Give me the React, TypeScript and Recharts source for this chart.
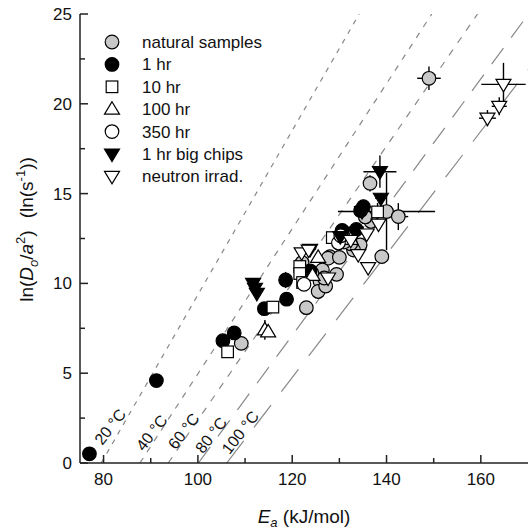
import {
  ScatterChart,
  Scatter,
  XAxis,
  YAxis,
  ErrorBar,
  ReferenceLine,
  Legend,
  Label,
} from 'recharts';

// ---- data (Ea in kJ/mol, ln(Do/a2) in ln(s-1)) ----
const naturalSamples = [
  { x: 149.0, y: 21.42, ex: 2.5, ey: 0.65 },
  { x: 136.5, y: 15.57, ex: 0.8, ey: 0.45 },
  { x: 140.0, y: 14.0, ex: 10.3, ey: 2.15 },
  { x: 142.5, y: 13.72, ex: 2.1, ey: 0.75 },
  { x: 136.7, y: 13.45, ex: 1.0, ey: 0.3 },
  { x: 139.0, y: 11.49 },
  { x: 134.4, y: 12.14, ex: 1.5, ey: 0.3 },
  { x: 133.0, y: 11.86 },
  { x: 132.4, y: 12.2 },
  { x: 130.3, y: 12.55 },
  { x: 128.0, y: 11.49, ex: 1.2 },
  { x: 127.6, y: 11.4 },
  { x: 126.4, y: 10.75 },
  { x: 129.4, y: 10.5, ex: 1.3, ey: 0.3 },
  { x: 125.9, y: 10.1 },
  { x: 125.5, y: 9.55, ey: 0.4 },
  { x: 127.1, y: 9.85 },
  { x: 123.0, y: 8.65 },
  { x: 109.2, y: 6.66 },
  { x: 122.1, y: 11.16 },
  { x: 124.2, y: 10.56 },
  { x: 131.0, y: 12.3 },
  { x: 130.0, y: 11.45 },
  { x: 126.8, y: 10.3 },
  { x: 135.5, y: 13.7 },
];

const oneHr = [
  { x: 77.0, y: 0.51 },
  { x: 91.2, y: 4.59 },
  { x: 105.3, y: 6.81 },
  { x: 107.7, y: 7.24 },
  { x: 114.1, y: 8.59 },
  { x: 118.8, y: 9.12 },
  { x: 118.6, y: 10.19, ex: 1.3, ey: 0.45 },
  { x: 123.8, y: 10.7 },
  { x: 130.6, y: 12.95 },
  { x: 130.1, y: 12.65 },
  { x: 133.6, y: 13.0 },
  { x: 135.1, y: 14.27, ex: 1.6, ey: 0.4 },
  { x: 134.5, y: 14.05 },
];

const tenHr = [
  { x: 106.3, y: 6.19 },
  { x: 115.9, y: 8.68 },
  { x: 121.6, y: 10.94 },
  { x: 121.6, y: 10.55 },
  { x: 122.2, y: 10.05 },
  { x: 138.1, y: 13.98, ex: 0.8, ey: 0.5 },
  { x: 128.5, y: 12.55 },
];

const hundredHr = [
  { x: 114.2, y: 7.41, ey: 0.55 },
  { x: 114.9, y: 7.3 },
  { x: 125.5, y: 11.45 },
  { x: 132.4, y: 12.45 },
  { x: 124.3, y: 10.45 },
];

const threeFiftyHr = [
  { x: 122.5, y: 9.95 },
  { x: 129.8, y: 12.25 },
  { x: 130.3, y: 12.65 },
];

const bigChips = [
  { x: 111.7, y: 10.0 },
  { x: 112.1, y: 9.73 },
  { x: 112.5, y: 9.45 },
  { x: 123.8, y: 11.9, ex: 1.2 },
  { x: 138.6, y: 16.22, ex: 3.5, ey: 0.9 },
  { x: 138.8, y: 14.74, ex: 1.2, ey: 0.3 },
  { x: 134.8, y: 14.0, ex: 1.8, ey: 0.3 },
  { x: 130.2, y: 12.6 },
  { x: 133.5, y: 12.85 },
];

const neutron = [
  { x: 164.8, y: 21.08, ex: 4.7, ey: 1.2 },
  { x: 163.9, y: 19.86, ex: 1.6, ey: 0.5 },
  { x: 161.4, y: 19.2, ex: 1.8, ey: 0.45 },
  { x: 138.3, y: 13.3 },
  { x: 135.8, y: 12.75, ex: 1.0 },
  { x: 134.0, y: 11.6 },
  { x: 136.1, y: 10.88 },
  { x: 132.4, y: 12.4 },
  { x: 127.6, y: 10.3 },
  { x: 122.0, y: 11.7 },
  { x: 123.5, y: 11.85 },
];

// isotherms: Ea at ln = 0, and end point
const isoNames = ['20 °C', '40 °C', '60 °C', '80 °C', '100 °C'];
const isoStartEa = [79.5, 87.7, 93.7, 100.1, 106.1];
const isoEndEa = [134.2, 149.6, 159.3, 170, 170];
const isoEndLn = [25, 25, 25, 24.96, 21.9];
const isoLabelEa = [81.4, 90.2, 97.0, 102.8, 109.0];
const isoLabelLn = [2.02, 1.68, 1.77, 1.55, 1.7];

const xTicks = [80, 90, 100, 110, 120, 130, 140, 150, 160];
const yTicks = [0, 2.5, 5, 7.5, 10, 12.5, 15, 17.5, 20, 22.5, 25];

const FONT = 'Liberation Sans, Arial, Helvetica, sans-serif';
const dashes = ['5 6', '6 7', '7 8', '20 13', '28 17'];

const withErr = (arr) => arr.map((d) => ({ ex: 0, ey: 0, ...d }));

const series = [
  { name: 'natural samples', kind: 'natural', data: withErr(naturalSamples) },
  { name: '1 hr', kind: 'hr1', data: withErr(oneHr) },
  { name: '10 hr', kind: 'hr10', data: withErr(tenHr) },
  { name: '100 hr', kind: 'hr100', data: withErr(hundredHr) },
  { name: '350 hr', kind: 'hr350', data: withErr(threeFiftyHr) },
  { name: '1 hr big chips', kind: 'chips', data: withErr(bigChips) },
  { name: 'neutron irrad.', kind: 'neutron', data: withErr(neutron) },
];

function Marker({ kind, cx, cy }: { kind: string; cx: number; cy: number }) {
  const sw = 1.2;
  switch (kind) {
    case 'natural':
      return <circle cx={cx} cy={cy} r={6.8} fill="#c8c8c8" stroke="#000" strokeWidth={sw} />;
    case 'hr1':
      return <circle cx={cx} cy={cy} r={6.8} fill="#000" stroke="#000" strokeWidth={sw} />;
    case 'hr350':
      return <circle cx={cx} cy={cy} r={6.8} fill="#fff" stroke="#000" strokeWidth={sw} />;
    case 'hr10':
      return <rect x={cx - 5.8} y={cy - 5.8} width={11.6} height={11.6} fill="#fff" stroke="#000" strokeWidth={sw} />;
    case 'hr100':
      return (
        <polygon
          points={`${cx},${cy - 7.5} ${cx + 7.5},${cy + 5} ${cx - 7.5},${cy + 5}`}
          fill="#fff"
          stroke="#000"
          strokeWidth={sw}
        />
      );
    case 'chips':
      return (
        <polygon
          points={`${cx - 7.5},${cy - 5} ${cx + 7.5},${cy - 5} ${cx},${cy + 7.5}`}
          fill="#000"
          stroke="#000"
          strokeWidth={sw}
        />
      );
    default:
      return (
        <polygon
          points={`${cx - 7.5},${cy - 5} ${cx + 7.5},${cy - 5} ${cx},${cy + 7.5}`}
          fill="#fff"
          stroke="#000"
          strokeWidth={sw}
        />
      );
  }
}

const frame = { stroke: '#222', strokeWidth: 1.5 };

function BottomTick({ x, y, payload }: any) {
  const major = payload.value % 20 === 0;
  return (
    <g>
      <line x1={x} x2={x} y1={y} y2={y - (major ? 8 : 5)} stroke="#222" strokeWidth={1.5} />
      {major && (
        <text x={x} y={y + 22} textAnchor="middle" fontSize={17} fontFamily={FONT} fill="#111">
          {payload.value}
        </text>
      )}
    </g>
  );
}

function TopTick({ x, y, payload }: any) {
  const major = payload.value % 20 === 0;
  return <line x1={x} x2={x} y1={y} y2={y + (major ? 8 : 5)} stroke="#222" strokeWidth={1.5} />;
}

function LeftTick({ x, y, payload }: any) {
  const major = payload.value % 5 === 0;
  return (
    <g>
      <line x1={x} x2={x + (major ? 8 : 5)} y1={y} y2={y} stroke="#222" strokeWidth={1.5} />
      {major && (
        <text x={x - 8} y={y + 6} textAnchor="end" fontSize={17} fontFamily={FONT} fill="#111">
          {payload.value}
        </text>
      )}
    </g>
  );
}

function RightTick({ x, y, payload }: any) {
  const major = payload.value % 5 === 0;
  return <line x1={x} x2={x - (major ? 8 : 5)} y1={y} y2={y} stroke="#222" strokeWidth={1.5} />;
}

function XTitle({ viewBox }: any) {
  const cx = viewBox.x + viewBox.width / 2;
  return (
    <text x={cx} y={viewBox.y + 60} textAnchor="middle" fontSize={19} fontFamily={FONT} fill="#111">
      <tspan fontStyle="italic">E</tspan>
      <tspan fontStyle="italic" fontSize={13} dy={4}>a</tspan>
      <tspan dy={-4}> (kJ/mol)</tspan>
    </text>
  );
}

function YTitle({ viewBox }: any) {
  const x = viewBox.x + 33;
  const y = viewBox.y + viewBox.height / 2 - 9;
  return (
    <text
      x={x}
      y={y}
      transform={`rotate(-90 ${x} ${y})`}
      textAnchor="middle"
      fontSize={19}
      fontFamily={FONT}
      fill="#111"
    >
      <tspan>ln(</tspan>
      <tspan fontStyle="italic">D</tspan>
      <tspan fontStyle="italic" fontSize={13} dy={5}>o</tspan>
      <tspan dy={-5}>/</tspan>
      <tspan fontStyle="italic">a</tspan>
      <tspan fontSize={13} dy={-8}>2</tspan>
      <tspan dy={8}>)</tspan>
      <tspan dx={12}>(ln(s</tspan>
      <tspan fontSize={13} dy={-8}>-1</tspan>
      <tspan dy={8}>))</tspan>
    </text>
  );
}

function LegendBox() {
  return (
    <svg width={230} height={160}>
      {series.map((s, i) => (
        <g key={s.name}>
          <Marker kind={s.kind} cx={12} cy={10 + i * 22.4} />
          <text x={42} y={10 + i * 22.4 + 6} fontSize={17} fontFamily={FONT} fill="#111">
            {s.name}
          </text>
        </g>
      ))}
    </svg>
  );
}

const isoLabelData = isoNames.map((n, i) => ({ x: isoLabelEa[i], y: isoLabelLn[i], label: n }));

export default function App() {
  return (
    <div style={{ position: 'absolute', left: 0, top: 0, width: 529, height: 530, background: '#fff' }}>
      <ScatterChart width={529} height={530} margin={{ top: 14, right: 1, bottom: 0, left: 0 }}>
        <XAxis
          type="number"
          dataKey="x"
          domain={[75, 170]}
          ticks={xTicks}
          interval={0}
          tickSize={0}
          tickMargin={0}
          tickLine={false}
          axisLine={frame}
          tick={<BottomTick />}
          height={67}
          allowDataOverflow
        >
          <Label content={<XTitle />} />
        </XAxis>
        <XAxis
          xAxisId="top"
          orientation="top"
          type="number"
          dataKey="x"
          domain={[75, 170]}
          ticks={xTicks}
          interval={0}
          tickSize={0}
          tickMargin={0}
          tickLine={false}
          axisLine={frame}
          tick={<TopTick />}
          height={0}
          allowDataOverflow
        />
        <YAxis
          type="number"
          dataKey="y"
          domain={[0, 25]}
          ticks={yTicks}
          interval={0}
          tickSize={0}
          tickMargin={0}
          tickLine={false}
          axisLine={frame}
          tick={<LeftTick />}
          width={80}
          allowDataOverflow
        >
          <Label content={<YTitle />} />
        </YAxis>
        <YAxis
          yAxisId="right"
          orientation="right"
          type="number"
          dataKey="y"
          domain={[0, 25]}
          ticks={yTicks}
          interval={0}
          tickSize={0}
          tickMargin={0}
          tickLine={false}
          axisLine={frame}
          tick={<RightTick />}
          width={0}
          allowDataOverflow
        />
        {isoNames.map((n, i) => (
          <ReferenceLine
            key={n}
            segment={[
              { x: isoStartEa[i], y: 0 },
              { x: isoEndEa[i], y: isoEndLn[i] },
            ]}
            stroke="#888"
            strokeWidth={1.2}
            strokeDasharray={dashes[i]}
            ifOverflow="hidden"
          />
        ))}
        <Scatter
          name="iso labels"
          data={isoLabelData}
          isAnimationActive={false}
          legendType="none"
          shape={(p: any) => (
            <text
              x={p.cx}
              y={p.cy}
              transform={`rotate(-52 ${p.cx} ${p.cy})`}
              textAnchor="middle"
              dominantBaseline="central"
              fontSize={16}
              fontFamily={FONT}
              fill="#111"
            >
              {p.payload.label}
            </text>
          )}
        />
        {series.map((s) => (
          <Scatter
            key={s.name}
            name={s.name}
            data={s.data}
            isAnimationActive={false}
            shape={(p: any) => <Marker kind={s.kind} cx={p.cx} cy={p.cy} />}
          >
            <ErrorBar dataKey="ex" direction="x" width={0} stroke="#000" strokeWidth={1.4} />
            <ErrorBar dataKey="ey" direction="y" width={0} stroke="#000" strokeWidth={1.4} />
          </Scatter>
        ))}
        <Legend
          layout="vertical"
          align="center"
          verticalAlign="middle"
          content={() => <LegendBox />}
          wrapperStyle={{ left: 100, top: 32, width: 230, height: 160 }}
        />
      </ScatterChart>
    </div>
  );
}
